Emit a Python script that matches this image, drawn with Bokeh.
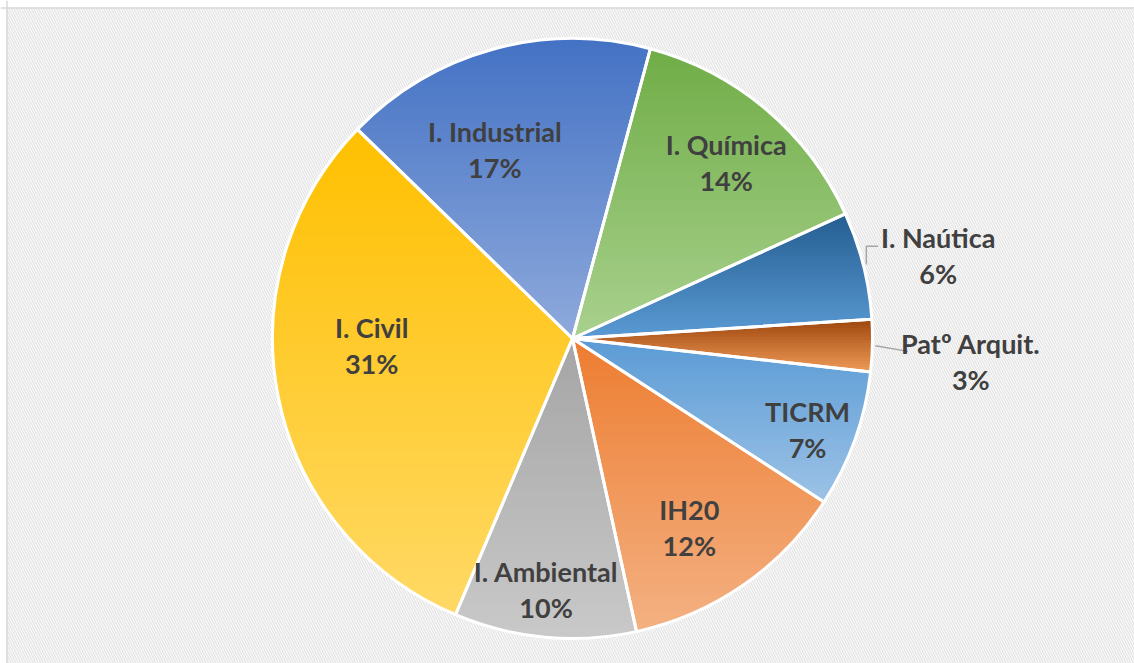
import numpy as np
from bokeh.plotting import figure
from bokeh.models import ColumnDataSource, Range1d, Span
from bokeh.core.properties import value
from bokeh.embed import file_html
from bokeh.resources import INLINE

# ---- data ----
categories = ["I. Industrial", "I. Química", "I. Naútica", "Patº Arquit.",
              "TICRM", "IH20", "I. Ambiental", "I. Civil"]
shares = [16.9, 14.0, 5.8, 2.8, 7.4, 12.4, 9.8, 30.9]

# ---- style ----
top_colors = ["#4472C4", "#70AD47", "#255E91", "#9E480E",
              "#5B9BD5", "#ED7D31", "#A5A5A5", "#FFC000"]
bottom_colors = ["#8FAADC", "#A9D18E", "#5B9BD5", "#F29C5A",
                 "#9DC3E6", "#F4B183", "#C9C9C9", "#FFD966"]
label_rf = [0.68, 0.78, 1.25, 1.33, 0.84, 0.74, 0.84, 0.67]
label_da = [-7.0, 0.8, 1.3, 2.0, 1.4, 2.9, 0.7, 9.3]
leader_elbow = [False, False, True, False, False, False, False, False]
leader_end_dx = [0, 0, -60, -63, 0, 0, 0, 0]
leader_end_dy = [0, 0, 9, 10.5, 0, 0, 0, 0]

W, H = 1134, 663
CX, CY, R = 572, 325, 300
START = -45.8  # degrees, clockwise from 12 o'clock
FONT = "Lato"
FSIZE = "27px"
TXT = "#404040"


def hex2rgb(h):
    h = h.lstrip("#")
    return np.array([int(h[i:i + 2], 16) for i in (0, 2, 4)], dtype=float)


def mix(c1, c2, t):
    c = hex2rgb(c1) * (1 - t) + hex2rgb(c2) * t
    return "#%02x%02x%02x" % tuple(int(round(v)) for v in c)


def clip(poly, y0, keep_above):
    out = []
    n = len(poly)
    for i in range(n):
        p1 = poly[i]
        p2 = poly[(i + 1) % n]
        in1 = p1[1] >= y0 if keep_above else p1[1] <= y0
        in2 = p2[1] >= y0 if keep_above else p2[1] <= y0
        if in1:
            out.append(p1)
        if in1 != in2:
            t = (y0 - p1[1]) / (p2[1] - p1[1])
            out.append((p1[0] + t * (p2[0] - p1[0]), y0))
    return out


total = float(sum(shares))
spans = [s / total * 360.0 for s in shares]
a0s = START + np.concatenate([[0], np.cumsum(spans)[:-1]])
a1s = a0s + np.array(spans)

p = figure(width=W, height=H, output_backend="svg", toolbar_location=None,
           x_range=Range1d(0, W), y_range=Range1d(0, H), min_border=0,
           match_aspect=False)
p.axis.visible = False
p.grid.visible = False
p.outline_line_color = None
p.background_fill_color = "white"
p.border_fill_color = "white"

# hatched background (chart area)
p.quad(left=[6], right=[W], bottom=[0], top=[H - 7], fill_color="white",
       line_color=None, hatch_pattern="\\", hatch_color="#E6E6E6",
       hatch_scale=5, hatch_weight=1.5)

# gradient slices built from horizontal bands
xs, ys, cols = [], [], []
for a0, a1, ct, cb in zip(a0s, a1s, top_colors, bottom_colors):
    n = max(10, int((a1 - a0) * 2))
    ang = np.radians(np.linspace(a0, a1, n))
    poly = [(CX, CY)] + [(CX + R * np.sin(a), CY + R * np.cos(a)) for a in ang]
    ymin = min(q[1] for q in poly)
    ymax = max(q[1] for q in poly)
    edges = np.arange(ymin, ymax + 3, 3.0)
    for yb0, yb1 in zip(edges[:-1], edges[1:]):
        part = clip(poly, yb0 - 0.7, True)
        if len(part) < 3:
            continue
        part = clip(part, yb1 + 0.7, False)
        if len(part) < 3:
            continue
        t = (ymax - 0.5 * (yb0 + yb1)) / (ymax - ymin)
        t = min(max(t, 0.0), 1.0)
        xs.append([q[0] for q in part])
        ys.append([q[1] for q in part])
        cols.append(mix(ct, cb, t))

p.patches(xs="xs", ys="ys", fill_color="cols", line_color=None,
          source=ColumnDataSource(dict(xs=xs, ys=ys, cols=cols)))

# white slice borders
p.wedge(x=CX, y=CY, radius=R,
        start_angle=list(np.radians(90 - a1s)), end_angle=list(np.radians(90 - a0s)),
        fill_color=None, line_color="white", line_width=3)

# labels
names, pcts, lx, ly = [], [], [], []
lead_x, lead_y = [], []
for i, cat in enumerate(categories):
    mid = 0.5 * (a0s[i] + a1s[i]) + label_da[i]
    r = R * label_rf[i]
    x = CX + r * np.sin(np.radians(mid))
    y = CY + r * np.cos(np.radians(mid))
    lx.append(x)
    ly.append(y)
    names.append(cat)
    pcts.append("%d%%" % int(round(shares[i] / total * 100)))
    if label_rf[i] > 1:
        m = np.radians(0.5 * (a0s[i] + a1s[i]))
        sx = CX + (R + 3) * np.sin(m)
        sy = CY + (R + 3) * np.cos(m)
        ex = x + leader_end_dx[i]
        ey = y + leader_end_dy[i]
        if leader_elbow[i]:
            lead_x.append([sx, sx, ex])
            lead_y.append([sy, ey, ey])
        else:
            lead_x.append([sx, ex])
            lead_y.append([sy, ey])

p.multi_line(xs=lead_x, ys=lead_y, line_color="#A6A6A6", line_width=1.5)

p.text(x=lx, y=[v + 18 for v in ly], text=names, text_font=value(FONT),
       text_font_style="bold", text_font_size=FSIZE, text_color=TXT,
       text_align="center", text_baseline="middle")
p.text(x=lx, y=[v - 18 for v in ly], text=pcts, text_font=value(FONT),
       text_font_style="bold", text_font_size=FSIZE, text_color=TXT,
       text_align="center", text_baseline="middle")

# chart border (left and top visible in the reference)
p.add_layout(Span(location=6.5, dimension="height", line_color="#D9D9D9", line_width=1.5))
p.add_layout(Span(location=H - 7.5, dimension="width", line_color="#D9D9D9", line_width=1.5))

open("out.html", "w").write(file_html(p, INLINE))
